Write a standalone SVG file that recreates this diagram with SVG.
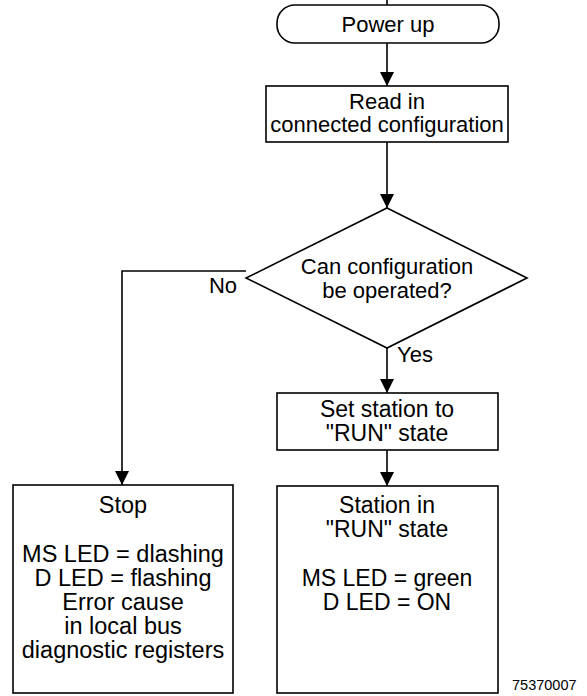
<svg xmlns="http://www.w3.org/2000/svg" width="587" height="696" viewBox="0 0 587 696">
  <style>
    .box { fill: #ffffff; stroke: #000000; stroke-width: 1.6; }
    .edge { fill: none; stroke: #000000; stroke-width: 1.6; }
    text { font-family: "Liberation Sans", Arial, sans-serif; font-size: 22px; fill: #000000; }
    .c { text-anchor: middle; }
    .big { font-size: 23.5px; }
    .mid { font-size: 23px; }
    .small { font-size: 14.5px; }
  </style>
  <defs>
    <marker id="arrow" viewBox="0 0 14 14" refX="14" refY="7" markerWidth="14" markerHeight="14" markerUnits="userSpaceOnUse" orient="auto">
      <path d="M0,0 L14,7 L0,14 z" fill="#000000"/>
    </marker>
  </defs>

  <g id="connectors">
    <line class="edge" x1="387" y1="0" x2="387" y2="5"/>
    <line class="edge" x1="387" y1="43" x2="387" y2="86" marker-end="url(#arrow)"/>
    <line class="edge" x1="387" y1="142" x2="387" y2="208" marker-end="url(#arrow)"/>
    <polyline class="edge" points="246,271 122,271 122,485" marker-end="url(#arrow)"/>
    <line class="edge" x1="387" y1="348" x2="387" y2="393" marker-end="url(#arrow)"/>
    <line class="edge" x1="387" y1="450" x2="387" y2="486" marker-end="url(#arrow)"/>
    <text x="237" y="293" text-anchor="end">No</text>
    <text x="397" y="362">Yes</text>
  </g>

  <g id="power-up">
    <rect class="box" x="277" y="5" width="222" height="38" rx="18" ry="18"/>
    <text class="c" x="388" y="32">Power up</text>
  </g>

  <g id="read-config">
    <rect class="box" x="266" y="86" width="242" height="56"/>
    <text class="c" x="387" y="109">Read in</text>
    <text class="c" x="387" y="132">connected configuration</text>
  </g>

  <g id="decision">
    <polygon class="box" points="387,208 527,278 387,348 246,278"/>
    <text class="c" x="387" y="274">Can configuration</text>
    <text class="c" x="387" y="298">be operated?</text>
  </g>

  <g id="set-run">
    <rect class="box" x="277" y="393" width="221" height="57"/>
    <text class="c mid" x="387" y="417">Set station to</text>
    <text class="c mid" x="387" y="441">"RUN" state</text>
  </g>

  <g id="stop">
    <rect class="box" x="13" y="485" width="220" height="208"/>
    <text class="c big" x="123" y="513">Stop</text>
    <text class="c big" x="123" y="562">MS LED = dlashing</text>
    <text class="c big" x="123" y="586">D LED = flashing</text>
    <text class="c big" x="123" y="610">Error cause</text>
    <text class="c big" x="123" y="634">in local bus</text>
    <text class="c big" x="123" y="658">diagnostic registers</text>
  </g>

  <g id="station-run">
    <rect class="box" x="277" y="486" width="221" height="207"/>
    <text class="c mid" x="387" y="513">Station in</text>
    <text class="c mid" x="387" y="537">"RUN" state</text>
    <text class="c mid" x="387" y="586">MS LED = green</text>
    <text class="c mid" x="387" y="610">D LED = ON</text>
  </g>

  <g id="figure-number">
    <text class="small" x="512" y="690">75370007</text>
  </g>
</svg>
